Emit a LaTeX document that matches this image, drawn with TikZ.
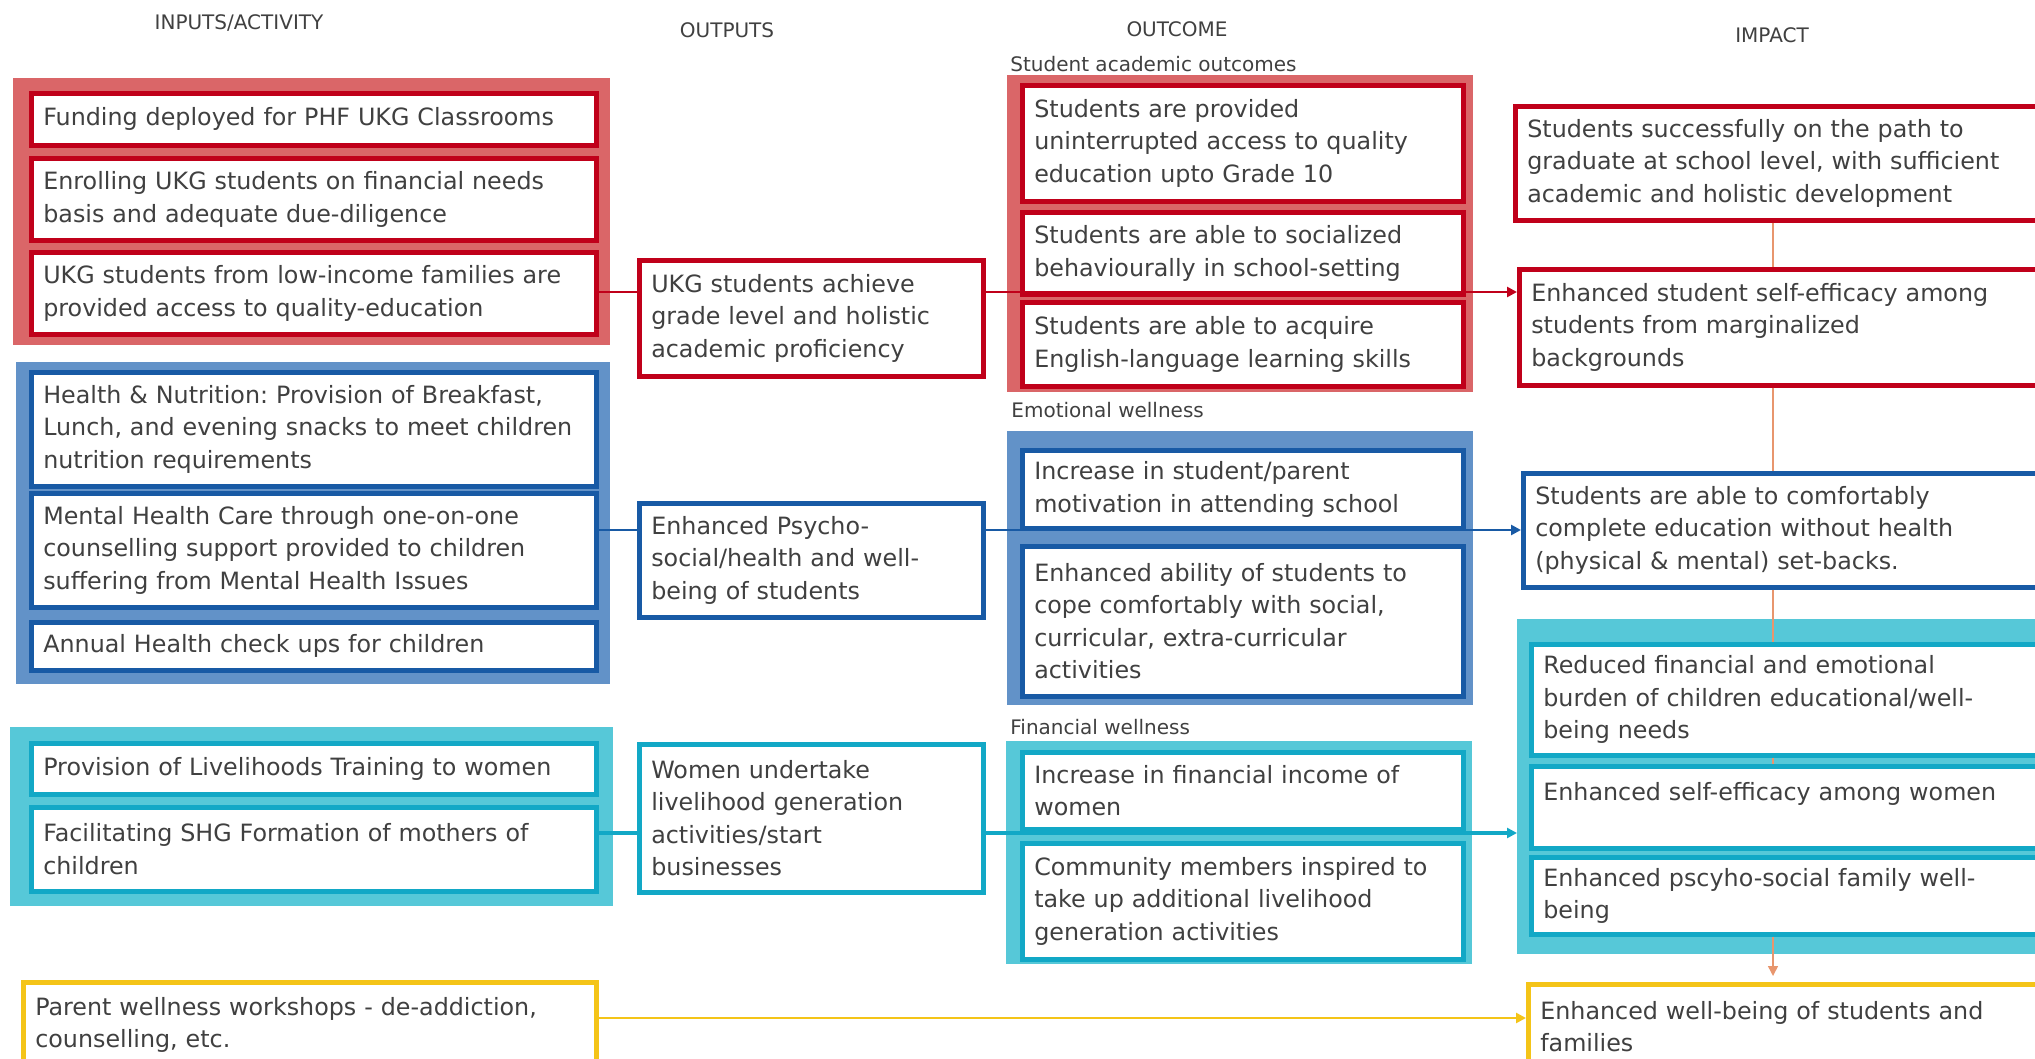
\documentclass[tikz,border=0pt]{standalone}
\usepackage{fontspec}
\setmainfont{DejaVu Sans}
\frenchspacing
\usetikzlibrary{arrows.meta}
\definecolor{rd}{RGB}{192,0,26}
\definecolor{rdg}{RGB}{218,102,104}
\definecolor{bl}{RGB}{24,90,165}
\definecolor{blg}{RGB}{98,146,200}
\definecolor{tl}{RGB}{18,168,198}
\definecolor{tlg}{RGB}{86,200,216}
\definecolor{yl}{RGB}{244,196,24}
\definecolor{org}{RGB}{232,150,110}
\definecolor{txt}{RGB}{64,64,64}
\begin{document}
\begin{tikzpicture}[x=0.5pt,y=-0.5pt,>={Triangle[length=5pt,width=5pt]},
  every node/.style={font=\fontsize{11.9}{16.25}\selectfont,text=txt},
  bx/.style={draw=#1,fill=white,line width=2.3pt,anchor=north west,align=left,inner xsep=6pt,inner ysep=2pt},
  grp/.style={fill=#1,anchor=north west,inner sep=0pt},
  wh/.style 2 args={minimum width=#1*0.5pt,minimum height=#2*0.5pt,text width=#1*0.5pt-12pt},
  hd/.style={font=\fontsize{10}{12}\selectfont},
  sub/.style={font=\fontsize{10}{12}\selectfont,anchor=west,inner sep=0pt},
  ln/.style={draw=#1,line width=1.3pt}]
  \useasboundingbox (0,0) rectangle (2035,1059);
  \node[hd] (hin) at (239,23) {INPUTS/ACTIVITY};
  \node[hd] (hout) at (727,30) {OUTPUTS};
  \node[hd] (hoc) at (1177,29) {OUTCOME};
  \node[hd] (him) at (1772,35) {IMPACT};
  \node[grp=rdg,wh={597}{267}] (grpin1) at (13,78) {};
  \node[grp=blg,wh={594}{322}] (grpin2) at (16,362) {};
  \node[grp=tlg,wh={603}{179}] (grpin3) at (10,727) {};
  \node[grp=rdg,wh={466}{317}] (grpoc1) at (1007,75) {};
  \node[grp=blg,wh={466}{274}] (grpoc2) at (1007,431) {};
  \node[grp=tlg,wh={466}{223}] (grpoc3) at (1006,741) {};
  \node[grp=tlg,wh={533}{335}] (grpim) at (1517,619) {};
  \node[sub] (lacad) at (1010,64) {Student academic outcomes};
  \node[sub] (lemo) at (1011,410) {Emotional wellness};
  \node[sub] (lfin) at (1010,727) {Financial wellness};
  \node[bx=rd,wh={565}{52}] (fund) at (29,91) {Funding deployed for PHF UKG Classrooms};
  \node[bx=rd,wh={565}{82}] (enrol) at (29,156) {Enrolling UKG students on financial needs\\basis and adequate due-diligence};
  \node[bx=rd,wh={565}{82}] (access) at (29,250) {UKG students from low-income families are\\provided access to quality-education};
  \node[bx=bl,wh={565}{114}] (nutri) at (29,370) {Health \& Nutrition: Provision of Breakfast,\\Lunch, and evening snacks to meet children\\nutrition requirements};
  \node[bx=bl,wh={565}{114}] (mental) at (29,491) {Mental Health Care through one-on-one\\counselling support provided to children\\suffering from Mental Health Issues};
  \node[bx=bl,wh={565}{48}] (checkup) at (29,620) {Annual Health check ups for children};
  \node[bx=tl,wh={565}{51}] (train) at (29,741) {Provision of Livelihoods Training to women};
  \node[bx=tl,wh={565}{84}] (shg) at (29,805) {Facilitating SHG Formation of mothers of\\children};
  \node[bx=yl,wh={573}{85}] (parent) at (21,980) {Parent wellness workshops - de-addiction,\\counselling, etc.};
  \node[bx=rd,wh={344}{116}] (achieve) at (637,258) {UKG students achieve\\grade level and holistic\\academic proficiency};
  \node[bx=bl,wh={344}{114}] (psycho) at (637,501) {Enhanced Psycho-\\social/health and well-\\being of students};
  \node[bx=tl,wh={344}{148}] (women) at (637,742) {Women undertake\\livelihood generation\\activities/start\\businesses};
  \node[bx=rd,wh={441}{116}] (provided) at (1020,83) {Students are provided\\uninterrupted access to quality\\education upto Grade 10};
  \node[bx=rd,wh={441}{82}] (social) at (1020,210) {Students are able to socialized\\behaviourally in school-setting};
  \node[bx=rd,wh={441}{84}] (acquire) at (1020,300) {Students are able to acquire\\English-language learning skills};
  \node[bx=bl,wh={441}{78}] (motiv) at (1020,448) {Increase in student/parent\\motivation in attending school};
  \node[bx=bl,wh={441}{150}] (cope) at (1020,544) {Enhanced ability of students to\\cope comfortably with social,\\curricular, extra-curricular\\activities};
  \node[bx=tl,wh={441}{77}] (income) at (1020,750) {Increase in financial income of\\women};
  \node[bx=tl,wh={441}{116}] (community) at (1020,841) {Community members inspired to\\take up additional livelihood\\generation activities};
  \node[bx=rd,wh={537}{114}] (success) at (1513,104) {Students successfully on the path to\\graduate at school level, with sufficient\\academic and holistic development};
  \node[bx=rd,wh={533}{116}] (selfeff) at (1517,267) {Enhanced student self-efficacy among\\students from marginalized\\backgrounds};
  \node[bx=bl,wh={529}{114}] (comfort) at (1521,471) {Students are able to comfortably\\complete education without health\\(physical \& mental) set-backs.};
  \node[bx=tl,wh={521}{111}] (reduced) at (1529,642) {Reduced financial and emotional\\burden of children educational/well-\\being needs};
  \node[bx=tl,wh={521}{82}] (womeneff) at (1529,764) {Enhanced self-efficacy among women\\\mbox{}};
  \node[bx=tl,wh={521}{77}] (family) at (1529,855) {Enhanced pscyho-social family well-\\being};
  \node[bx=yl,wh={524}{85}] (wellbeing) at (1526,982) {Enhanced well-being of students and\\families};
  \coordinate (ya) at (0,292);
  \coordinate (yb) at (0,530);
  \coordinate (yc) at (0,833);
  \coordinate (yd) at (0,1018);
  \coordinate (xi) at (1773,0);
  \draw[ln=rd] (access.east |- ya) -- (achieve.west |- ya);
  \draw[ln=rd,->] (achieve.east |- ya) -- (selfeff.west |- ya);
  \draw[ln=bl] (mental.east |- yb) -- (psycho.west |- yb);
  \draw[ln=bl,->] (psycho.east |- yb) -- (comfort.west |- yb);
  \draw[ln=tl,line width=2pt] (shg.east |- yc) -- (women.west |- yc);
  \draw[ln=tl,line width=2pt,->] (women.east |- yc) -- (grpim.west |- yc);
  \draw[ln=yl,->] (parent.east |- yd) -- (wellbeing.west |- yd);
  \draw[ln=org,line width=0.8pt] (success.south -| xi) -- (selfeff.north -| xi);
  \draw[ln=org,line width=0.8pt] (selfeff.south -| xi) -- (comfort.north -| xi);
  \draw[ln=org,line width=0.8pt] (comfort.south -| xi) -- (reduced.north -| xi);
  \draw[ln=org,line width=0.6pt] (reduced.south -| xi) -- (womeneff.north -| xi);
  \draw[ln=org,line width=0.8pt,->,shorten >=3pt] (family.south -| xi) -- (wellbeing.north -| xi);
\end{tikzpicture}
\end{document}
